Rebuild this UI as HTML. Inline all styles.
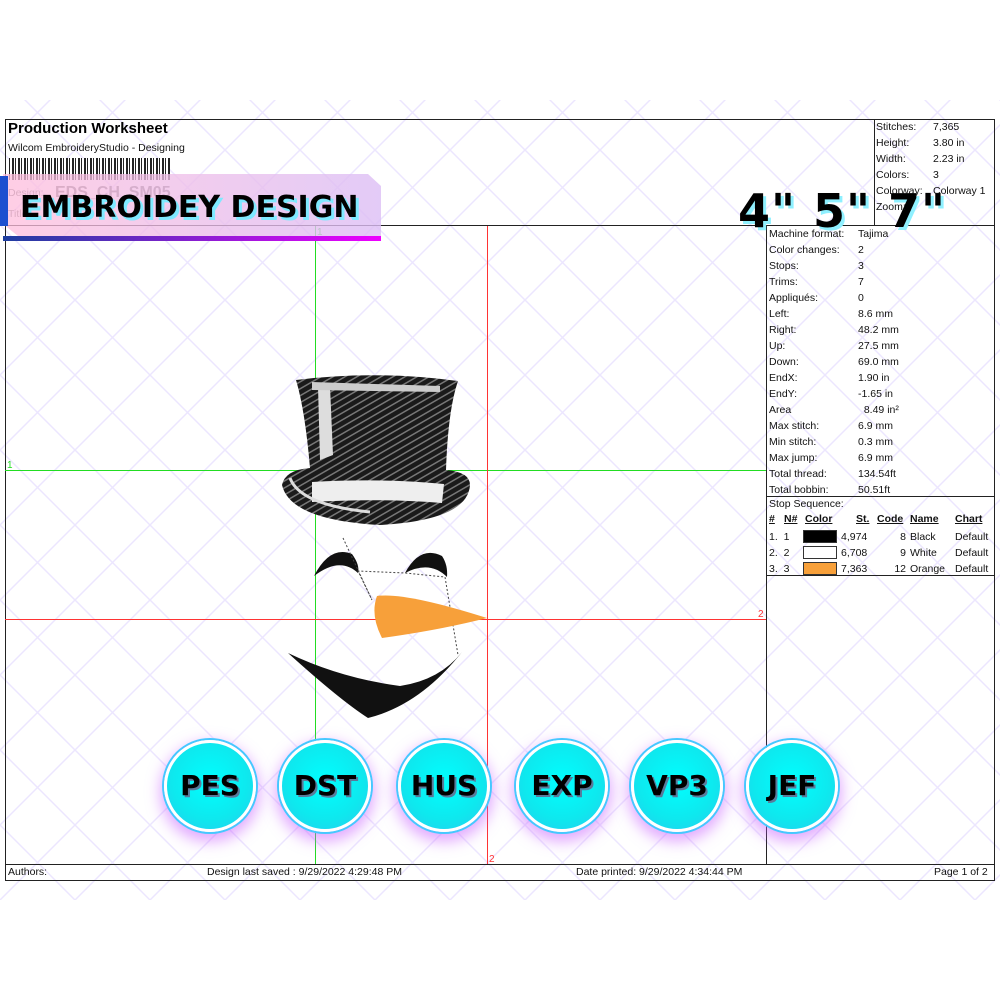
<!DOCTYPE html>
<html><head><meta charset="utf-8"><style>
body{margin:0;width:1000px;height:1000px;background:#fff;position:relative;overflow:hidden;font-family:"Liberation Sans",sans-serif;}
.a{position:absolute;white-space:nowrap;}
.t{font-size:10.5px;color:#111;}
.btn{position:absolute;width:86px;height:86px;border-radius:50%;background:radial-gradient(circle at 50% 45%,#0ff 0%,#0ee8ee 60%,#2bc8f0 100%);border:3px solid #fff;box-shadow:0 0 0 2px #46c8ff,0 6px 14px 4px rgba(200,90,255,.5);font:bold 28px "DejaVu Sans",sans-serif;color:#000;text-align:center;line-height:86px;text-shadow:2px 2px 0 #5a7a9a;}
</style></head><body>
<svg class="a" style="left:0;top:0" width="1000" height="1000">
<defs><pattern id="p" width="150" height="150" patternUnits="userSpaceOnUse">
<path d="M0 0L150 150M150 0L0 150M75 0L0 75M75 0L150 75M0 75L75 150M150 75L75 150" stroke="#ece6ff" stroke-width="1.5" fill="none"/></pattern>
<pattern id="h" width="6" height="6" patternUnits="userSpaceOnUse" patternTransform="rotate(60)"><rect width="6" height="6" fill="#1a1a1a"/><rect width="1.5" height="6" fill="#777"/></pattern></defs>
<rect x="0" y="100" width="1000" height="800" fill="url(#p)"/>
<g stroke="#222" stroke-width="1" fill="none">
<rect x="5.5" y="119.5" width="989" height="761"/>
<line x1="5" y1="225.5" x2="995" y2="225.5"/>
<line x1="874.5" y1="119" x2="874.5" y2="225"/>
<line x1="766.5" y1="225" x2="766.5" y2="864"/>
<line x1="766" y1="496.5" x2="995" y2="496.5"/>
<line x1="766" y1="575.5" x2="995" y2="575.5"/>
<line x1="5" y1="864.5" x2="995" y2="864.5"/>
</g>
<rect x="315" y="226" width="1" height="638" fill="#22dd22"/>
<rect x="5" y="470" width="761" height="1" fill="#22dd22"/>
<rect x="487" y="226" width="1" height="638" fill="#ff3333"/>
<rect x="5" y="619" width="761" height="1" fill="#ff3333"/>
<text x="317" y="235" font-size="10" fill="#2d2" font-family="Liberation Sans">1</text>
<text x="7" y="468" font-size="10" fill="#2d2" font-family="Liberation Sans">1</text>
<text x="489" y="862" font-size="10" fill="#f33" font-family="Liberation Sans">2</text>
<text x="758" y="617" font-size="10" fill="#f33" font-family="Liberation Sans">2</text>
<!-- hat -->
<path d="M296 380 Q375 370 458 381 Q448 410 446 470 Q470 472 470 485 Q468 520 380 525 Q290 520 282 485 Q285 470 310 468 Q305 410 296 380Z" fill="url(#h)"/>
<path d="M318 386 L330 386 L333 455 L320 460Z" fill="#ddd"/>
<path d="M312 382 L440 386 L440 392 L312 390Z" fill="#ccc"/>
<path d="M312 482 Q380 478 444 484 L442 503 Q380 498 312 502Z" fill="#eee"/>
<path d="M290 478 Q300 505 370 512" stroke="#ddd" stroke-width="3" fill="none"/>
<!-- eyes -->
<path d="M314 576 Q330 545 352 554 Q360 565 358 573 Q340 556 314 576Z" fill="#111"/>
<path d="M405 573 Q420 545 442 556 Q448 565 447 577 Q430 560 405 573Z" fill="#111"/>
<polyline points="343,538 372,600 358,571 405,573 445,577 458,655" stroke="#444" stroke-dasharray="2,2" fill="none"/>
<!-- nose -->
<path d="M377 596 Q405 592 487 618 Q440 630 382 638 Q370 615 377 596Z" fill="#f7a03a"/>
<!-- mouth -->
<path d="M288 653 Q340 678 400 686 Q440 680 462 652 Q420 705 368 718 Q340 700 288 653Z" fill="#111"/>
</svg>
<div class="a" style="left:8px;top:120px;font-size:15px;font-weight:bold">Production Worksheet</div>
<div class="a t" style="left:8px;top:142px">Wilcom EmbroideryStudio - Designing</div>
<div class="a" style="left:9px;top:158px;width:161px;height:22px;background:repeating-linear-gradient(90deg,#222 0 1px,#fff 1px 3px,#222 3px 5px,#fff 5px 6px)"></div>
<div class="a t" style="left:8px;top:187px;color:#777">Design:</div>
<div class="a" style="left:55px;top:184px;font-size:16px;font-weight:bold;color:#777">EDS_CH_SM05</div>
<div class="a t" style="left:8px;top:208px;color:#777">Title:</div>
<!-- banner -->
<div class="a" style="left:3px;top:174px;width:378px;height:66px;background:linear-gradient(90deg,rgba(255,190,220,.75),rgba(220,190,245,.8));clip-path:polygon(0 0,365px 0,378px 12px,378px 66px,20px 66px,0 50px);"></div>
<div class="a" style="left:3px;top:236px;width:378px;height:5px;background:linear-gradient(90deg,#1e3ea0,#e0f)"></div>
<div class="a" style="left:0;top:176px;width:8px;height:50px;background:#1d4fd0"></div>
<div class="a" style="left:20px;top:190px;font-size:30px;font-weight:bold;font-family:'DejaVu Sans',sans-serif;color:#000;text-shadow:3px 3px 0 #7fe9ff">EMBROIDEY DESIGN</div>
<div class="a" style="left:738px;top:184px;font-size:46px;font-weight:bold;font-family:'DejaVu Sans',sans-serif;letter-spacing:1px;color:#000;text-shadow:3px 3px 0 #8ff0ff">4" 5" 7"</div>
<!-- right top -->
<div class="a t" style="left:876px;top:119px;line-height:16px">Stitches:<br>Height:<br>Width:<br>Colors:<br>Colorway:<br>Zoom:</div>
<div class="a t" style="left:933px;top:119px;line-height:16px">7,365<br>3.80 in<br>2.23 in<br>3<br>Colorway 1<br></div>
<div class="a t" style="left:769px;top:226px;line-height:16px">Machine format:<br>Color changes:<br>Stops:<br>Trims:<br>Appliqués:<br>Left:<br>Right:<br>Up:<br>Down:<br>EndX:<br>EndY:<br>Area<br>Max stitch:<br>Min stitch:<br>Max jump:<br>Total thread:<br>Total bobbin:</div>
<div class="a t" style="left:858px;top:226px;line-height:16px">Tajima<br>2<br>3<br>7<br>0<br>8.6 mm<br>48.2 mm<br>27.5 mm<br>69.0 mm<br>1.90 in<br>-1.65 in<br>&nbsp;&nbsp;8.49 in²<br>6.9 mm<br>0.3 mm<br>6.9 mm<br>134.54ft<br>50.51ft</div>
<div class="a t" style="left:769px;top:498px">Stop Sequence:</div>
<div class="a t" style="left:769px;top:513px;font-weight:bold;text-decoration:underline">#</div>
<div class="a t" style="left:784px;top:513px;font-weight:bold;text-decoration:underline">N#</div>
<div class="a t" style="left:805px;top:513px;font-weight:bold;text-decoration:underline">Color</div>
<div class="a t" style="left:856px;top:513px;font-weight:bold;text-decoration:underline">St.</div>
<div class="a t" style="left:877px;top:513px;font-weight:bold;text-decoration:underline">Code</div>
<div class="a t" style="left:910px;top:513px;font-weight:bold;text-decoration:underline">Name</div>
<div class="a t" style="left:955px;top:513px;font-weight:bold;text-decoration:underline">Chart</div>
<div class="a t" style="left:769px;top:529px;line-height:16px">1.&nbsp;&nbsp;1<br>2.&nbsp;&nbsp;2<br>3.&nbsp;&nbsp;3</div>
<div class="a" style="left:803px;top:530px;width:32px;height:11px;background:#000;border:1px solid #333"></div>
<div class="a" style="left:803px;top:546px;width:32px;height:11px;background:#fff;border:1px solid #333"></div>
<div class="a" style="left:803px;top:562px;width:32px;height:11px;background:#f7a03a;border:1px solid #333"></div>
<div class="a t" style="left:841px;top:529px;line-height:16px">4,974<br>6,708<br>7,363</div>
<div class="a t" style="left:888px;top:529px;line-height:16px;text-align:right;width:18px">8<br>9<br>12</div>
<div class="a t" style="left:910px;top:529px;line-height:16px">Black<br>White<br>Orange</div>
<div class="a t" style="left:955px;top:529px;line-height:16px">Default<br>Default<br>Default</div>
<!-- footer -->
<div class="a t" style="left:8px;top:866px">Authors:</div>
<div class="a t" style="left:207px;top:866px">Design last saved : 9/29/2022 4:29:48 PM</div>
<div class="a t" style="left:576px;top:866px">Date printed: 9/29/2022 4:34:44 PM</div>
<div class="a t" style="left:934px;top:866px">Page 1 of 2</div>
<!-- buttons -->
<div class="btn" style="left:164px;top:740px">PES</div>
<div class="btn" style="left:279px;top:740px">DST</div>
<div class="btn" style="left:398px;top:740px">HUS</div>
<div class="btn" style="left:516px;top:740px">EXP</div>
<div class="btn" style="left:631px;top:740px">VP3</div>
<div class="btn" style="left:746px;top:740px">JEF</div>
</body></html>
